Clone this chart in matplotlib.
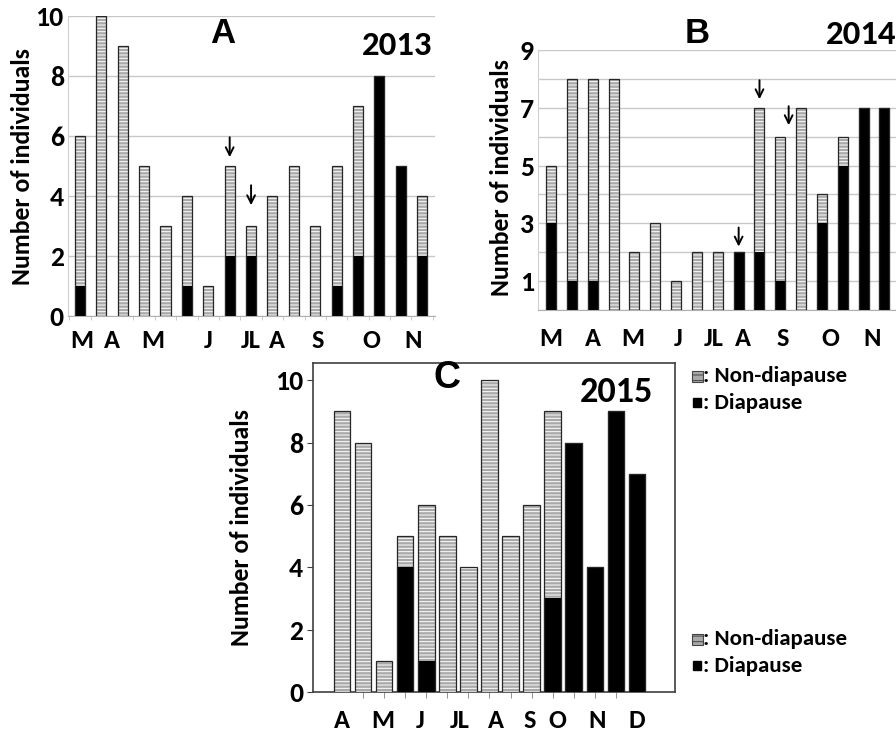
import matplotlib
matplotlib.use("Agg")
import matplotlib.pyplot as plt
from matplotlib.patches import Rectangle
import numpy as np

# ---------------------------------------------------------------- data
# 2013 (panel A)
total_2013    = [6, 10, 9, 5, 3, 4, 1, 5, 3, 4, 5, 3, 5, 7, 8, 5, 4]
diapause_2013 = [1, 0, 0, 0, 0, 1, 0, 2, 2, 0, 0, 0, 1, 2, 8, 5, 2]
months_2013   = ["M", "A", "M", "J", "JL", "A", "S", "O", "N"]
month_pos_2013 = [0.1, 1.5, 3.4, 6.0, 8.0, 9.2, 11.1, 13.6, 15.6]
arrows_2013   = [(7, 5.2), (8, 3.6)]          # (bar index, value under arrow head)

# 2014 (panel B)
total_2014    = [5, 8, 8, 8, 2, 3, 1, 2, 2, 2, 7, 6, 7, 4, 6, 7, 7]
diapause_2014 = [3, 1, 1, 0, 0, 0, 0, 0, 0, 2, 2, 1, 0, 3, 5, 7, 7]
months_2014   = ["M", "A", "M", "J", "JL", "A", "S", "O", "N"]
month_pos_2014 = [0.0, 2.0, 3.9, 6.1, 7.8, 9.2, 11.1, 13.4, 15.4]
arrows_2014   = [(9, 2.1), (10, 7.2), (11.4, 6.3)]

# 2015 (panel C)
total_2015    = [9, 8, 1, 5, 6, 5, 4, 10, 5, 6, 9, 8, 4, 9, 7]
diapause_2015 = [0, 0, 0, 4, 1, 0, 0, 0, 0, 0, 3, 8, 4, 9, 7]
months_2015   = ["A", "M", "J", "JL", "A", "S", "O", "N", "D"]
month_pos_2015 = [0.0, 1.95, 3.7, 5.6, 7.3, 8.9, 10.2, 12.1, 14.0]

#====================================================================================================

plt.rcParams["font.family"] = ["Carlito", "DejaVu Sans"]
plt.rcParams["font.weight"] = "bold"
plt.rcParams["hatch.linewidth"] = 0.7

HATCH_FACE = "#a9a9a9"
TICK_FS = 20
XTICK_FS = 19
YLAB_FS = 18.5


def drawBars(ax, total, dia, width):
    x = np.arange(len(total))
    total = np.array(total)
    dia = np.array(dia)
    ax.bar(x, dia, width=width, color="black", edgecolor="black", linewidth=0.8, zorder=3)
    ax.bar(x, total - dia, bottom=dia, width=width, color=HATCH_FACE,
           edgecolor="white", hatch="-----", linewidth=0, zorder=3)
    ax.bar(x, total, width=width, fill=False, edgecolor="#262626", linewidth=0.9, zorder=4)
    return x


def addArrows(ax, arrows, length):
    for xi, yv in arrows:
        ax.annotate("", xy=(xi, yv), xytext=(xi, yv + length),
                    arrowprops=dict(arrowstyle="->", color="black", lw=1.4,
                                    mutation_scale=14), zorder=6)


fig = plt.figure(figsize=(8.96, 7.32), dpi=100)

# ---------------------------------------------------------------- panel A
axA = fig.add_axes([68 / 896, 1 - 316 / 732, (435 - 68) / 896, 300 / 732])
drawBars(axA, total_2013, diapause_2013, 0.47)
axA.set_xlim(-0.56, 16.6)
axA.set_ylim(0, 10)
axA.set_yticks(range(0, 11, 2))
axA.grid(axis="y", color="#c8c8c8", linewidth=1, zorder=0)
axA.set_xticks(month_pos_2013, months_2013)
axA.set_xticks(np.arange(-0.5, 16.6, 1), minor=True)
addArrows(axA, arrows_2013, 0.85)
axA.text(0.422, 0.943, "A", transform=axA.transAxes, ha="center", va="center",
         fontsize=25, fontweight="bold", family="Liberation Sans")
axA.text(0.992, 0.903, "2013", transform=axA.transAxes, ha="right", va="center",
         fontsize=25, fontweight="bold")
axA.set_ylabel("Number of individuals", fontsize=YLAB_FS, fontweight="bold")
axA.yaxis.set_label_coords(-0.092, 0.497)
for s in ["top", "right"]:
    axA.spines[s].set_visible(False)
axA.spines["left"].set_color("#d0d0d0")
axA.spines["bottom"].set_color("#b0b0b0")
axA.tick_params(axis="y", length=0, labelsize=TICK_FS, pad=3)
axA.tick_params(axis="x", which="major", length=0, labelsize=XTICK_FS, pad=9)
axA.tick_params(axis="x", which="minor", length=3, color="#c0c0c0")

# ---------------------------------------------------------------- panel B
axB = fig.add_axes([538 / 896, 1 - 310 / 732, (897 - 538) / 896, 260 / 732])
drawBars(axB, total_2014, diapause_2014, 0.48)
axB.set_xlim(-0.63, 16.6)
axB.set_ylim(0, 9)
axB.set_yticks(range(1, 10, 2))
axB.set_yticks(range(0, 10), minor=True)
axB.grid(axis="y", which="both", color="#c8c8c8", linewidth=1, zorder=0)
axB.set_xticks(month_pos_2014, months_2014)
addArrows(axB, arrows_2014, 0.85)
axB.text(0.444, 1.065, "B", transform=axB.transAxes, ha="center", va="center",
         fontsize=25, fontweight="bold", family="Liberation Sans")
axB.text(0.997, 1.058, "2014", transform=axB.transAxes, ha="right", va="center",
         fontsize=25, fontweight="bold")
axB.set_ylabel("Number of individuals", fontsize=YLAB_FS, fontweight="bold")
axB.yaxis.set_label_coords(-0.07, 0.51)
for s in ["top", "right"]:
    axB.spines[s].set_visible(False)
axB.spines["left"].set_color("#d0d0d0")
axB.spines["bottom"].set_color("#b0b0b0")
axB.tick_params(axis="y", which="both", length=0, labelsize=TICK_FS, pad=3)
axB.tick_params(axis="x", length=0, labelsize=XTICK_FS, pad=12)

# ---------------------------------------------------------------- panel C
axC = fig.add_axes([313 / 896, 1 - 692 / 732, (675 - 313) / 896, 329 / 732])
xC = drawBars(axC, total_2015, diapause_2015, 0.79)
axC.set_xlim(-1.37, 15.8)
axC.set_ylim(0, 10.55)
axC.set_yticks(range(0, 11, 2))
axC.set_xticks(month_pos_2015, months_2015)
axC.set_xticks(xC, minor=True)
axC.text(0.37, 0.955, "C", transform=axC.transAxes, ha="center", va="center",
         fontsize=27, fontweight="bold", family="Liberation Sans")
axC.text(0.939, 0.912, "2015", transform=axC.transAxes, ha="right", va="center",
         fontsize=26, fontweight="bold")
axC.set_ylabel("Number of individuals", fontsize=YLAB_FS, fontweight="bold")
axC.yaxis.set_label_coords(-0.166, 0.50)
for s in axC.spines.values():
    s.set_color("#404040")
    s.set_linewidth(1.2)
axC.tick_params(axis="y", length=4, color="#404040", labelsize=TICK_FS, pad=3)
axC.tick_params(axis="x", which="major", length=0, labelsize=XTICK_FS, pad=12)
axC.tick_params(axis="x", which="minor", length=4, color="#808080")

# ---------------------------------------------------------------- legends
def addLegend(y_top_px, y_bot_px):
    for y_px, label, dia in [(y_top_px, ": Non-diapause", False), (y_bot_px, ": Diapause", True)]:
        yf = 1 - y_px / 732
        if dia:
            r = Rectangle((693 / 896, yf - 4 / 732), 8 / 896, 9 / 732,
                          transform=fig.transFigure, facecolor="black", edgecolor="black")
        else:
            r = Rectangle((692 / 896, yf - 5.5 / 732), 11 / 896, 11 / 732,
                          transform=fig.transFigure, facecolor=HATCH_FACE,
                          edgecolor="#444444", hatch="---", linewidth=0.8)
        fig.patches.append(r)
        fig.text(703 / 896, yf, label, ha="left", va="center", fontsize=16.5, fontweight="bold")

addLegend(376, 403)
addLegend(639, 666)

fig.savefig("out.png", dpi=100)
